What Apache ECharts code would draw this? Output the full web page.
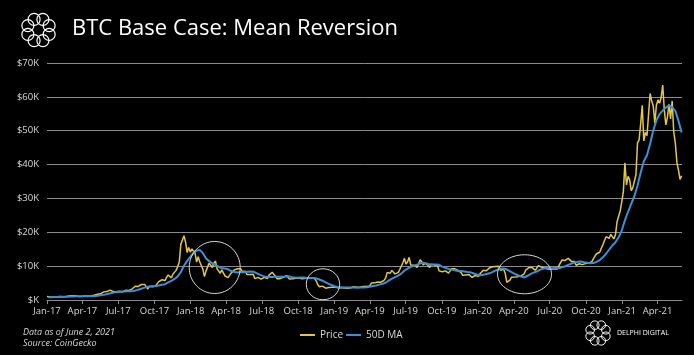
<!DOCTYPE html>
<html><head><meta charset="utf-8">
<script src="https://cdn.jsdelivr.net/npm/echarts@6/dist/echarts.min.js"></script>
<style>html,body{margin:0;padding:0;background:#000;}#c{width:694px;height:355px;}</style>
</head><body><div id="c"></div>
<script>
// ---- data ----
const priceStart = '2017-01-01';
const priceStepDays = 4;
const price2017 = [1000,1000,900,810,900,920,890,920,1010,1020,990,1000,1055,1120,1170,1220,1270,1110,1240,970,1040,960,1040,1140,1190,1210,1180,1210,1250,1330,1420,1530,1720,1720,1830,2050,2400,2300,2480,2870,2900,2450,2500,2700,2450,2480,2600,2500,2380,1930,2860,2760,2800,2720,3230,3350,4070,4300,4000,4350,4580,4600,4600,4250,3250,4080,3650,3900,4350,4230,4600,5430,5700,5980,5520,5750,6740,7400,7150,6550,7700,8100,8750,9900,11250,16500,16900,19000,17100,14000,15500,14150];
const price2018 = [15100,15000,13900,11200,12800,11300,11800,9100,6900,8600,8550,10900,10500,9600,10900,11500,9200,9150,7900,8900,8500,7100,7050,6630,6800,8000,8150,8900,9250,9250,9700,9200,8450,8350,8500,7500,7100,7500,7600,7600,6300,6450,6700,6250,6150,6600,6700,6350,6350,7350,7700,8200,7750,7050,6300,6300,6300,6300,6700,7100,7200,7000,6200,6500,6300,6750,6450,6600,6500,6600,6250,6750,6450,6450,6450,6330,6480,6420,6350,5600,4500,3900,4200,4100,3550,3480,3250,3700,3950,3800,3850];
const price2019 = [3780,4050,3650,3550,3700,3580,3550,3480,3450,3650,3620,3620,3950,3800,3800,3720,3850,3870,4000,4050,3990,4040,4150,5000,5200,5060,5250,5300,5200,5250,5650,5800,6400,8100,8000,7900,8750,8550,7700,7900,8100,9000,9500,11000,12300,10600,11300,12600,10300,10700,10300,9850,9600,10800,11900,11300,10300,10900,10400,10200,9600,10600,10400,10350,10250,10200,8600,8200,8350,7900,8600,8350,7950,8200,9250,9150,9200,9250,8750,8500,8100,7300,7150,7400,7400,7500,7250,6650,7150,7250,7400];
const price2020 = [6980,7750,7850,8800,8900,8650,8350,9500,9300,9800,10250,9900,9600,9950,8800,8900,9100,7900,5200,5300,5850,6750,6400,6800,7200,6900,6650,7150,7500,7750,8800,8900,9550,9300,9650,9100,8800,9400,10150,9650,9750,9450,9450,9650,9150,9150,9100,9400,9250,9150,9160,9550,10950,11800,11700,11700,11600,12300,11900,11400,11500,11400,10250,10350,10700,10900,10450,10700,10780,10600,10900,11400,11350,11900,13000,13650,13750,14100,15300,16300,16700,18700,19100,18200,19400,19200,18050,19250,23100,23300,26300,29000];
const price2021 = [32000,40500,34000,36500,35500,32300,33100,33500,37000,46400,47300,52000,57500,47000,49500,48500,54800,61000,58800,57300,52300,57600,59100,58100,59800,63500,56200,51700,54000,57800,53500,58800,49700,46400,40600,38400,35600,36700];

const maStart = '2017-01-05';
const maStepDays = 8;
const ma2017 = [824,841,868,889,926,949,964,1002,1053,1084,1090,1103,1129,1137,1144,1190,1300,1445,1627,1855,2077,2265,2395,2514,2503,2568,2548,2674,2922,3173,3504,3816,3952,4075,4165,4298,4509,4668,5179,5638,6219,6975,8253,10130,11562,12723];
const ma2018 = [13942,14577,14804,13842,12258,11485,10781,10281,9846,9362,9331,9064,8556,8291,8122,8264,8218,8360,8450,8377,7962,7500,7123,6831,6762,6823,6892,6850,6865,6904,7019,6838,6615,6592,6631,6631,6523,6490,6500,6402,6041,5691,5216,4758,4369];
const ma2019 = [3974,3789,3724,3684,3699,3670,3664,3646,3675,3720,3798,3882,4109,4306,4535,4780,5099,5720,6297,6758,7177,7796,8708,9277,9815,10100,10396,10827,10912,10788,10473,10473,10508,10385,9873,9512,9181,8969,8785,8596,8581,8442,8277,8169,7815,7523];
const ma2020 = [7329,7425,7656,7883,8283,8725,9123,9285,9231,8731,8254,7727,7312,6931,6719,7073,7665,8096,8419,8900,9250,9446,9435,9400,9438,9374,9632,9978,10370,10758,11085,11262,11346,11165,11018,10872,10898,11283,11806,12595,13665,14881,16100,17054,18515,20508];
const ma2021 = [23546,26062,28385,30642,33800,37623,40969,42777,46146,50046,53077,54885,55946,56823,57477,56900,55862,52962,49454];

const xTickDates = ['2017-01-01','2017-04-01','2017-07-01','2017-10-01','2018-01-01','2018-04-01','2018-07-01','2018-10-01','2019-01-01','2019-04-01','2019-07-01','2019-10-01','2020-01-01','2020-04-01','2020-07-01','2020-10-01','2021-01-01','2021-04-01'];
const xTickLabels = ['Jan-17','Apr-17','Jul-17','Oct-17','Jan-18','Apr-18','Jul-18','Oct-18','Jan-19','Apr-19','Jul-19','Oct-19','Jan-20','Apr-20','Jul-20','Oct-20','Jan-21','Apr-21'];
const xMin = '2017-01-01';
const xMax = '2021-06-02';
const yMin = 0, yMax = 70000, yStep = 10000;

const noteDates = ['2018-03-03','2018-12-03','2020-04-28'];
const noteValues = [9600, 4650, 7600];

// ---- build ----
const DAY = 86400000;
const t = s => Date.parse(s + 'T00:00:00Z');
const priceVals = [].concat(price2017, price2018, price2019, price2020, price2021);
const maVals = [].concat(ma2017, ma2018, ma2019, ma2020, ma2021);
const priceData = priceVals.map((v, i) => [t(priceStart) + i * priceStepDays * DAY, v]);
const maData = maVals.map((v, i) => [t(maStart) + i * maStepDays * DAY, v]);
const tickTimes = xTickDates.map(t);
const labelOf = {};
tickTimes.forEach((tt, i) => { labelOf[tt] = xTickLabels[i]; });

const FONT = '"Open Sans", "DejaVu Sans", sans-serif';
const TXT = '#d9d9d9';
const YELLOW = '#e3c64a';
const BLUE = '#3d8fd6';

function ringLogo(cx, cy, R, r, w) {
  const kids = [];
  for (let k = 0; k < 8; k++) {
    const a = k * Math.PI / 4 + Math.PI / 8;
    kids.push({ type: 'circle', shape: { cx: cx + R * Math.cos(a), cy: cy + R * Math.sin(a), r: r },
      style: { fill: 'none', stroke: '#fff', lineWidth: w }, silent: true });
  }
  return kids;
}

const chart = echarts.init(document.getElementById('c'), null, { renderer: 'canvas' });
const staticGraphics = [
  { type: 'text', left: 72, top: 18, style: { text: 'BTC Base Case: Mean Reversion', fill: '#ffffff', font: '22px ' + FONT } },
  { type: 'text', left: 23, top: 328, style: { text: 'Data as of June 2, 2021', fill: TXT, font: 'italic 9px ' + FONT } },
  { type: 'text', left: 23, top: 339, style: { text: 'Source: CoinGecko', fill: TXT, font: 'italic 9px ' + FONT } },
  { type: 'text', left: 617, top: 329, style: { text: 'DELPHI DIGITAL', fill: '#ffffff', font: '7px ' + FONT } }
].concat(ringLogo(38.5, 30, 11.5, 6, 1.2), ringLogo(598, 333, 8.5, 4.3, 1));

chart.setOption({
  backgroundColor: '#000',
  animation: false,
  textStyle: { fontFamily: FONT },
  grid: { left: 47, right: 12, top: 63, bottom: 55, containLabel: false },
  legend: {
    left: 295, top: 325, itemWidth: 15, itemHeight: 2, itemGap: 3, icon: 'rect',
    textStyle: { color: TXT, fontSize: 10, fontFamily: FONT },
    data: ['Price', '50D MA']
  },
  xAxis: {
    type: 'value', min: t(xMin), max: t(xMax),
    axisLine: { show: true, lineStyle: { color: '#8c8c8c', width: 1 } },
    axisTick: { show: true, length: 4, lineStyle: { color: '#8c8c8c' }, customValues: tickTimes },
    axisLabel: { color: TXT, fontSize: 9.5, margin: 6, customValues: tickTimes,
      formatter: v => labelOf[v] || '' },
    splitLine: { show: false }
  },
  yAxis: {
    type: 'value', min: yMin, max: yMax, interval: yStep,
    axisLine: { show: false }, axisTick: { show: false },
    axisLabel: { color: TXT, fontSize: 9.5, margin: 8,
      formatter: v => v === 0 ? '$K' : '$' + (v / 1000) + 'K' },
    splitLine: { lineStyle: { color: '#8c8c8c', width: 1 } }
  },
  series: [
    { name: 'Price', type: 'line', data: priceData, showSymbol: false, color: YELLOW,
      lineStyle: { color: YELLOW, width: 1.5 }, z: 2 },
    { name: '50D MA', type: 'line', data: maData, showSymbol: false, color: BLUE,
      lineStyle: { color: BLUE, width: 2 }, z: 3 }
  ],
  graphic: staticGraphics
});

// annotation ellipses anchored to data coordinates
const noteRadii = [[25.5, 26], [16.7, 15.5], [27, 19.5]];
const notes = noteDates.map((d, i) => {
  const p = chart.convertToPixel({ xAxisIndex: 0, yAxisIndex: 0 }, [t(d), noteValues[i]]);
  return { type: 'ellipse', shape: { cx: p[0], cy: p[1], rx: noteRadii[i][0], ry: noteRadii[i][1] },
    style: { fill: 'none', stroke: '#d8d8d8', lineWidth: 1 }, z: 10, silent: true };
});
chart.setOption({ graphic: staticGraphics.concat(notes) }, { replaceMerge: ['graphic'] });
</script>
</body></html>
